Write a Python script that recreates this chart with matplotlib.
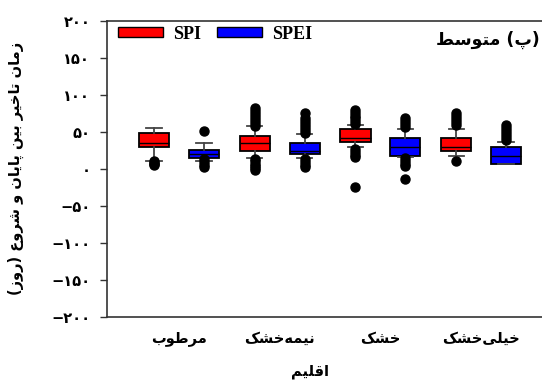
import matplotlib
matplotlib.use('Agg')
import matplotlib.pyplot as plt
from matplotlib.patches import Patch
import matplotlib.font_manager as fm

# ---------------------------- داده‌ها ----------------------------

climates = ['مرطوب', 'نیمه\u200cخشک', 'خشک', 'خیلی\u200cخشک']
series = ['SPI', 'SPEI']
colors = ['#ff0000', '#0000ff']

# آمار جعبه‌ها برای هر اقلیم: [SPI, SPEI]
q1 = [[29.5, 14.6], [24.6, 19.6], [35.8, 16.9], [23.6, 6.1]]
med = [[35.4, 19.6], [35.4, 24.1], [42.2, 30.0], [30.0, 17.8]]
q3 = [[48.9, 25.0], [44.9, 35.4], [53.8, 41.6], [42.2, 29.5]]
whislo = [[10.5, 10.5], [15.1, 15.1], [29.5, 15.5], [17.8, 6.1]]
whishi = [[55.1, 34.9], [58.4, 47.6], [59.7, 53.4], [53.4, 35.8]]
fliers = [
    [[10, 8, 6, 5], [51, 13, 9, 5, 2]],
    [[58, 62, 66, 70, 74, 78, 82, 13, 10, 7, 4, 1, -1],
     [49, 53, 57, 61, 65, 69, 76, 13, 9, 5, 2]],
    [[61, 64, 68, 72, 76, 80, 27, 23, 19, 16, -25],
     [56, 60, 64, 69, 15, 11, 7, 4, -14]],
    [[59, 63, 67, 71, 75, 11], [39, 43, 47, 51, 55, 59]],
]

yticks = [200, 150, 100, 50, 0, -50, -100, -150, -200]

title = '(پ) متوسط'
xlabel = 'اقلیم'
ylabel = 'زمان تاخیر بین پایان و شروع (روز)'

# ------------------------- شکل‌دهی حروف --------------------------

# (منفرد، پایانی، آغازی، میانی)
FORMS = {
    'ا': ('\uFE8D', '\uFE8E', None, None),
    'ب': ('\uFE8F', '\uFE90', '\uFE91', '\uFE92'),
    'پ': ('\uFB56', '\uFB57', '\uFB58', '\uFB59'),
    'ت': ('\uFE95', '\uFE96', '\uFE97', '\uFE98'),
    'خ': ('\uFEA5', '\uFEA6', '\uFEA7', '\uFEA8'),
    'د': ('\uFEA9', '\uFEAA', None, None),
    'ر': ('\uFEAD', '\uFEAE', None, None),
    'ز': ('\uFEAF', '\uFEB0', None, None),
    'س': ('\uFEB1', '\uFEB2', '\uFEB3', '\uFEB4'),
    'ش': ('\uFEB5', '\uFEB6', '\uFEB7', '\uFEB8'),
    'ط': ('\uFEC1', '\uFEC2', '\uFEC3', '\uFEC4'),
    'ع': ('\uFEC9', '\uFECA', '\uFECB', '\uFECC'),
    'ق': ('\uFED5', '\uFED6', '\uFED7', '\uFED8'),
    'ک': ('\uFB8E', '\uFB8F', '\uFB90', '\uFB91'),
    'ل': ('\uFEDD', '\uFEDE', '\uFEDF', '\uFEE0'),
    'م': ('\uFEE1', '\uFEE2', '\uFEE3', '\uFEE4'),
    'ن': ('\uFEE5', '\uFEE6', '\uFEE7', '\uFEE8'),
    'ه': ('\uFEE9', '\uFEEA', '\uFEEB', '\uFEEC'),
    'و': ('\uFEED', '\uFEEE', None, None),
    'ی': ('\uFBFC', '\uFBFD', '\uFBFE', '\uFBFF'),
}
MIRROR = {'(': ')', ')': '('}


def fa(text):
    out = []
    for i, c in enumerate(text):
        if c not in FORMS:
            if c != '\u200c':
                out.append(MIRROR.get(c, c))
            continue
        prev = text[i - 1] if i > 0 else ''
        nxt = text[i + 1] if i + 1 < len(text) else ''
        dual = FORMS[c][2] is not None
        join_prev = prev in FORMS and FORMS[prev][2] is not None
        join_next = dual and nxt in FORMS
        if join_prev and join_next:
            out.append(FORMS[c][3])
        elif join_prev:
            out.append(FORMS[c][1])
        elif join_next:
            out.append(FORMS[c][2])
        else:
            out.append(FORMS[c][0])
    return ''.join(reversed(out))


def fa_num(v):
    s = str(abs(v)).translate(str.maketrans('0123456789', '۰۱۲۳۴۵۶۷۸۹'))
    return '−' + s if v < 0 else s


# ----------------------------- график -----------------------------

plt.rcParams['font.family'] = ['DejaVu Sans']
plt.rcParams['font.weight'] = 'bold'

fig = plt.figure(figsize=(5.42, 3.85), dpi=100)
ax = fig.add_axes([0.1974, 0.177, 0.823, 0.769])

offsets = [-0.248, 0.248]
for g in range(len(climates)):
    for k in range(len(series)):
        stats = [{
            'q1': q1[g][k], 'med': med[g][k], 'q3': q3[g][k],
            'whislo': whislo[g][k], 'whishi': whishi[g][k],
            'fliers': fliers[g][k],
        }]
        ax.bxp(stats, positions=[g + 1 + offsets[k]], widths=0.3,
               patch_artist=True, manage_ticks=False,
               boxprops=dict(facecolor=colors[k], edgecolor='black',
                             linewidth=1.3),
               medianprops=dict(color='black', linewidth=1.0),
               whiskerprops=dict(color='#444444', linewidth=1.3),
               capprops=dict(color='#444444', linewidth=1.3),
               flierprops=dict(marker='o', markerfacecolor='black',
                               markeredgecolor='black', markersize=6.5))

ax.set_xlim(0.285, 4.715)
ax.set_ylim(-200, 200)
ax.set_yticks(yticks)
ax.set_yticklabels([fa_num(v) for v in yticks], fontsize=10.5,
                   fontweight='bold')
ax.set_xticks(range(1, len(climates) + 1))
ax.set_xticklabels([fa(c) for c in climates], fontsize=10.5,
                   fontweight='bold')
ax.tick_params(axis='x', length=0, pad=10)
ax.tick_params(axis='y', length=5, width=1, pad=7, color='#333333')

for side in ['left', 'bottom', 'top']:
    ax.spines[side].set_color('#333333')
    ax.spines[side].set_linewidth(1.2)
ax.spines['right'].set_visible(False)

ax.set_xlabel(fa(xlabel), fontsize=10.5, fontweight='bold')
ax.xaxis.set_label_coords(0.455, -0.16)
ax.set_ylabel(fa(ylabel), fontsize=10.5, fontweight='bold')
ax.yaxis.set_label_coords(-0.185, 0.5)

fig.text(0.995, 0.896, fa(title), fontsize=12.5, fontweight='bold',
         ha='right', va='center')

font = fm.FontProperties(family='Liberation Serif', weight='bold', size=13)
handles = [Patch(facecolor=colors[k], edgecolor='black', linewidth=1)
           for k in range(len(series))]
ax.legend(handles, series, loc='upper left', ncol=2, frameon=False,
          prop=font, handlelength=2.5, handleheight=0.5,
          handletextpad=0.55, columnspacing=0.9,
          bbox_to_anchor=(0.0, 1.02), borderaxespad=0.2)

fig.savefig('out.png', dpi=100)
